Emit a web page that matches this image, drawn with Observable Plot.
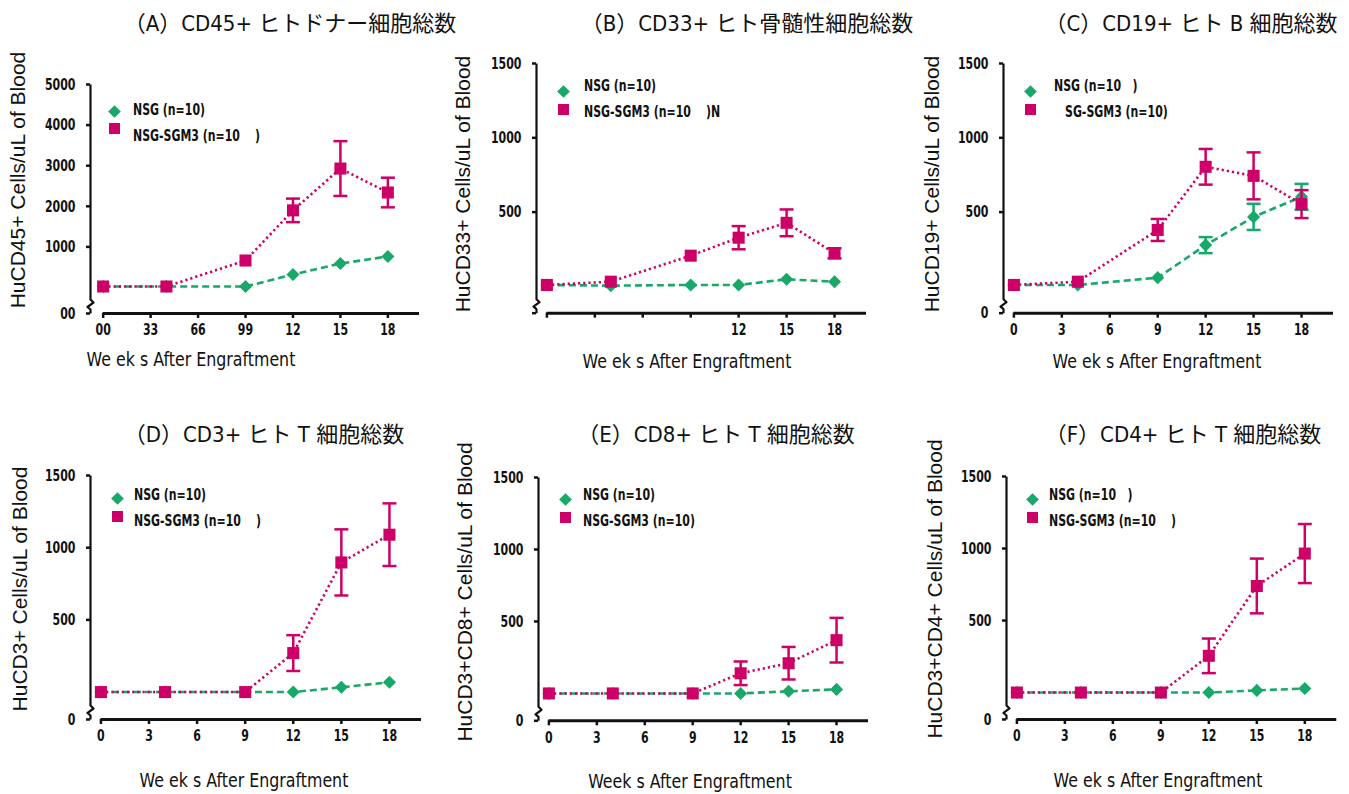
<!DOCTYPE html>
<html>
<head>
<meta charset="utf-8">
<script src="https://cdn.jsdelivr.net/npm/d3@7"></script>
<script src="https://cdn.jsdelivr.net/npm/@observablehq/plot@0.6"></script>
<style>
  body { margin: 0; background: #fff; }
  #root { position: relative; width: 1349px; height: 794px; overflow: hidden; background: #fff; }
  .title { position: absolute; font-family: "DejaVu Sans Condensed", "Noto Sans CJK JP", sans-serif; font-size: 22px; color: #111; white-space: pre; line-height: 1; transform: translate(-50%, -50%); }
  .ylab { position: absolute; font-family: "Liberation Sans", Arial, sans-serif; font-size: 21px; color: #111; white-space: pre; line-height: 1; transform: translate(-50%, -50%) rotate(-90deg); }
  .xlab { position: absolute; font-family: "DejaVu Sans Condensed", sans-serif; font-size: 20px; color: #111; white-space: pre; line-height: 1; transform: translate(-50%, -50%) scaleX(0.88); }
  .legtext { position: absolute; font-family: "DejaVu Sans Condensed", sans-serif; font-weight: bold; font-size: 16px; color: #111; white-space: pre; line-height: 1; transform-origin: 0 50%; transform: translateY(-50%) scaleX(0.76); }
  .sym { position: absolute; }
</style>
</head>
<body>
<div id="root"></div>
<script>
// ---------------- data ----------------
const weeks = [0, 4, 9, 12, 15, 18];
const xTickValues = [0, 3, 6, 9, 12, 15, 18];
const seriesNames = ["NSG", "NSG-SGM3"];

// (A) CD45+
const aNsg = [25, 25, 25, 320, 590, 765];
const aNsgSem = [0, 0, 0, 0, 0, 0];
const aSgm3 = [25, 25, 665, 1900, 2930, 2340];
const aSgm3Sem = [0, 0, 0, 290, 675, 365];
// (B) CD33+
const bNsg = [10, 5, 10, 10, 48, 32];
const bNsgSem = [0, 0, 0, 0, 0, 0];
const bSgm3 = [10, 32, 207, 328, 428, 223];
const bSgm3Sem = [0, 0, 0, 78, 90, 34];
// (C) CD19+
const cNsg = [10, 10, 59, 278, 468, 603];
const cNsgSem = [0, 0, 0, 54, 88, 87];
const cSgm3 = [10, 32, 380, 805, 744, 554];
const cSgm3Sem = [0, 0, 74, 120, 158, 94];
// (D) CD3+
const dNsg = [0, 0, 0, 0, 33, 68];
const dNsgSem = [0, 0, 0, 0, 0, 0];
const dSgm3 = [0, 0, 0, 270, 898, 1090];
const dSgm3Sem = [0, 0, 0, 124, 229, 217];
// (E) CD8+
const eNsg = [0, 0, 0, 0, 15, 28];
const eNsgSem = [0, 0, 0, 0, 0, 0];
const eSgm3 = [0, 0, 0, 140, 210, 370];
const eSgm3Sem = [0, 0, 0, 82, 113, 155];
// (F) CD4+
const fNsg = [0, 0, 0, 0, 15, 28];
const fNsgSem = [0, 0, 0, 0, 0, 0];
const fSgm3 = [0, 0, 0, 255, 740, 965];
const fSgm3Sem = [0, 0, 0, 120, 190, 205];

// tick labels
const aXTickLabels = ["00", "33", "66", "99", "12", "15", "18"];
const bXTickLabels = ["", "", "", "", "12", "15", "18"];
const stdXTickLabels = ["0", "3", "6", "9", "12", "15", "18"];
const aYTicks = [1000, 2000, 3000, 4000, 5000];
const aYTickLabels = ["1000", "2000", "3000", "4000", "5000"];
const stdYTicks = [500, 1000, 1500];
const stdYTickLabels = ["500", "1000", "1500"];
const aZeroLabel = "00";
const bZeroLabel = "";
const stdZeroLabel = "0";

// texts
const titles = ["（A）CD45+ ヒトドナー細胞総数", "（B）CD33+ ヒト骨髄性細胞総数", "（C）CD19+ ヒト B 細胞総数",
                "（D）CD3+ ヒト T 細胞総数", "（E）CD8+ ヒト T 細胞総数", "（F）CD4+ ヒト T 細胞総数"];
const yLabels = ["HuCD45+ Cells/uL of Blood", "HuCD33+ Cells/uL of Blood", "HuCD19+ Cells/uL of Blood",
                 "HuCD3+ Cells/uL of Blood", "HuCD3+CD8+ Cells/uL of Blood", "HuCD3+CD4+ Cells/uL of Blood"];
const xLabels = ["We ek s After Engraftment", "We ek s After Engraftment", "We ek s After Engraftment",
                 "We ek s After Engraftment", "Week s After Engraftment", "We ek s After Engraftment"];
const legendNsg = ["NSG (n=10)", "NSG (n=10)", "NSG (n=10   )", "NSG (n=10)", "NSG (n=10)", "NSG (n=10   )"];
const legendSgm3 = ["NSG-SGM3 (n=10    )", "NSG-SGM3 (n=10    )N", "SG-SGM3 (n=10)", "NSG-SGM3 (n=10    )", "NSG-SGM3 (n=10)", "NSG-SGM3 (n=10    )"];

// ---------------- styles & layout ----------------
const GREEN = "#17a86a";
const MAGENTA = "#cc0066";
const INK = "#111";
const NARROW = '"DejaVu Sans Condensed", sans-serif';
const TICK_SQUEEZE = 0.74;

const panelData = [
  {nsg: aNsg, nsgSem: aNsgSem, sgm: aSgm3, sgmSem: aSgm3Sem, xLab: aXTickLabels, yTicks: aYTicks, yLab: aYTickLabels, zero: aZeroLabel, yMax: 5000},
  {nsg: bNsg, nsgSem: bNsgSem, sgm: bSgm3, sgmSem: bSgm3Sem, xLab: bXTickLabels, yTicks: stdYTicks, yLab: stdYTickLabels, zero: bZeroLabel, yMax: 1500},
  {nsg: cNsg, nsgSem: cNsgSem, sgm: cSgm3, sgmSem: cSgm3Sem, xLab: stdXTickLabels, yTicks: stdYTicks, yLab: stdYTickLabels, zero: stdZeroLabel, yMax: 1500},
  {nsg: dNsg, nsgSem: dNsgSem, sgm: dSgm3, sgmSem: dSgm3Sem, xLab: stdXTickLabels, yTicks: stdYTicks, yLab: stdYTickLabels, zero: stdZeroLabel, yMax: 1500},
  {nsg: eNsg, nsgSem: eNsgSem, sgm: eSgm3, sgmSem: eSgm3Sem, xLab: stdXTickLabels, yTicks: stdYTicks, yLab: stdYTickLabels, zero: stdZeroLabel, yMax: 1500},
  {nsg: fNsg, nsgSem: fNsgSem, sgm: fSgm3, sgmSem: fSgm3Sem, xLab: stdXTickLabels, yTicks: stdYTicks, yLab: stdYTickLabels, zero: stdZeroLabel, yMax: 1500}
];

// pixel layout for each panel (axis frame, text anchors)
const layout = [
  {x0: 90,    x1: 419,  yTop: 84,    yBottom: 313, yMin: -640, xMin: -0.8,
   title: [290, 24],  ylab: [16.5, 180],  xlab: [191, 359],  sym: 114,  dY: 111, sY: 128, t1: [133, 110], t2: [133, 136]},
  {x0: 536,   x1: 866,  yTop: 63.3,  yBottom: 313, yMin: -180, xMin: -0.65,
   title: [747, 24],  ylab: [461.5, 183.5], xlab: [687, 361], sym: 563, dY: 91, sY: 109, t1: [584, 86], t2: [584, 112]},
  {x0: 1003,  x1: 1333, yTop: 63.3,  yBottom: 313, yMin: -180, xMin: -0.65,
   title: [1191, 24], ylab: [931, 183.5], xlab: [1157, 361], sym: 1030, dY: 91, sY: 109, t1: [1054, 86], t2: [1065, 112]},
  {x0: 90,    x1: 421,  yTop: 475,   yBottom: 719, yMin: -190, xMin: -0.65,
   title: [264, 435], ylab: [18.5, 589], xlab: [244, 780], sym: 117, dY: 498, sY: 516, t1: [134, 495], t2: [134, 521]},
  {x0: 538,   x1: 868,  yTop: 476.7, yBottom: 720, yMin: -190, xMin: -0.65,
   title: [716, 435], ylab: [463.5, 591.5], xlab: [690, 781], sym: 565, dY: 499, sY: 517, t1: [583, 495], t2: [583, 521]},
  {x0: 1005.7, x1: 1336, yTop: 476,  yBottom: 719, yMin: -187, xMin: -0.65,
   title: [1183, 435], ylab: [933.5, 589], xlab: [1158, 780], sym: 1032, dY: 499, sY: 517, t1: [1049, 495], t2: [1049, 521]}
];
const X_MAX = 20;

const root = document.getElementById("root");

// custom cap symbol for error bars (horizontal stroke)
const capSymbol = { draw(context, size) { const w = 7; context.moveTo(-w, 0); context.lineTo(w, 0); } };

function addDiv(cls, text, x, y) {
  const d = document.createElement("div");
  d.className = cls;
  d.textContent = text;
  d.style.left = x + "px";
  d.style.top = y + "px";
  root.appendChild(d);
  return d;
}

panelData.forEach((pd, i) => {
  const L = layout[i];
  const yMin = L.yMin, yMax = pd.yMax, xMin = L.xMin;
  const left = L.x0 - 70, top = L.yTop - 30;
  const width = (L.x1 + 20) - left, height = (L.yBottom + 45) - top;
  const upp = (yMax - yMin) / (L.yBottom - L.yTop);
  const wpp = (X_MAX - xMin) / (L.x1 - L.x0);

  const nsgRows = weeks.map((w, k) => ({week: w, value: pd.nsg[k], sem: pd.nsgSem[k], series: seriesNames[0]}));
  const sgmRows = weeks.map((w, k) => ({week: w, value: pd.sgm[k], sem: pd.sgmSem[k], series: seriesNames[1]}));
  const capsOf = rows => rows.filter(d => d.sem > 0).flatMap(d => [{week: d.week, y: d.value - d.sem}, {week: d.week, y: d.value + d.sem}]);

  // broken y-axis line (with zigzag near the bottom)
  const axisPath = [
    {x: xMin, y: yMax},
    {x: xMin, y: yMin + 14 * upp},
    {x: xMin + 3 * wpp, y: yMin + 11 * upp},
    {x: xMin - 3 * wpp, y: yMin + 6.5 * upp},
    {x: xMin, y: yMin + 4 * upp},
    {x: xMin, y: yMin}
  ];
  const xLabelMap = new Map(xTickValues.map((t, k) => [t, pd.xLab[k]]));
  const yTickAll = [yMin, ...pd.yTicks];
  const yLabelMap = new Map(yTickAll.map((t, k) => [t, k === 0 ? pd.zero : pd.yLab[k - 1]]));

  const chart = Plot.plot({
    width, height,
    marginLeft: L.x0 - left,
    marginRight: left + width - L.x1,
    marginTop: L.yTop - top,
    marginBottom: top + height - L.yBottom,
    x: {domain: [xMin, X_MAX], label: null},
    y: {domain: [yMin, yMax], label: null},
    style: {background: "transparent", overflow: "visible", fontFamily: NARROW, fontWeight: "bold", fontSize: "16.5px", color: INK},
    marks: [
      // axes
      Plot.line(axisPath, {x: "x", y: "y", stroke: INK, strokeWidth: 2.2, strokeLinecap: "butt"}),
      Plot.ruleY([{y: yMin, x1: 0, x2: X_MAX}], {y: "y", x1: "x1", x2: "x2", stroke: INK, strokeWidth: 3}),
      Plot.axisX(xTickValues, {tickSize: 5, tickPadding: 5, strokeWidth: 2.5, stroke: INK, tickFormat: d => xLabelMap.get(d), fontSize: 16.5, fontWeight: "bold", fontFamily: NARROW, label: null}),
      Plot.axisY(yTickAll, {tickSize: 4, tickPadding: 11, strokeWidth: 2.5, stroke: INK, tickFormat: d => yLabelMap.get(d), fontSize: 16.5, fontWeight: "bold", fontFamily: NARROW, label: null}),
      // NSG series
      Plot.line(nsgRows, {x: "week", y: "value", stroke: GREEN, strokeWidth: 2.6, strokeDasharray: "7,4", strokeLinecap: "butt"}),
      Plot.ruleX(nsgRows.filter(d => d.sem > 0), {x: "week", y1: d => d.value - d.sem, y2: d => d.value + d.sem, stroke: GREEN, strokeWidth: 2.5}),
      Plot.dot(capsOf(nsgRows), {x: "week", y: "y", symbol: capSymbol, r: 5, stroke: GREEN, strokeWidth: 2.5, fill: "none"}),
      Plot.dot(nsgRows, {x: "week", y: "value", symbol: "diamond2", r: 5.9, fill: GREEN, stroke: "none"}),
      // NSG-SGM3 series
      Plot.line(sgmRows, {x: "week", y: "value", stroke: MAGENTA, strokeWidth: 2.6, strokeDasharray: "2.2,3", strokeLinecap: "butt"}),
      Plot.ruleX(sgmRows.filter(d => d.sem > 0), {x: "week", y1: d => d.value - d.sem, y2: d => d.value + d.sem, stroke: MAGENTA, strokeWidth: 2.5}),
      Plot.dot(capsOf(sgmRows), {x: "week", y: "y", symbol: capSymbol, r: 5, stroke: MAGENTA, strokeWidth: 2.5, fill: "none"}),
      Plot.dot(sgmRows, {x: "week", y: "value", symbol: "square", r: 6.8, fill: MAGENTA, stroke: "none"})
    ]
  });
  // squeeze tick labels horizontally to imitate a condensed bold face
  chart.querySelectorAll("text").forEach(el => {
    const t = el.getAttribute("transform") || "";
    const x = +(el.getAttribute("x") || 0);
    el.removeAttribute("x");
    el.setAttribute("transform", `${t} translate(${x},0) scale(${TICK_SQUEEZE},1)`);
  });
  chart.style.position = "absolute";
  chart.style.left = left + "px";
  chart.style.top = top + "px";
  root.appendChild(chart);

  // texts
  addDiv("title", titles[i], L.title[0], L.title[1]);
  addDiv("ylab", yLabels[i], L.ylab[0], L.ylab[1]);
  addDiv("xlab", xLabels[i], L.xlab[0], L.xlab[1]);

  // legend
  const dia = document.createElement("div");
  dia.className = "sym";
  Object.assign(dia.style, {left: (L.sym - 4.5) + "px", top: (L.dY - 4.5) + "px", width: "9px", height: "9px", background: GREEN, transform: "rotate(45deg)"});
  root.appendChild(dia);
  const sq = document.createElement("div");
  sq.className = "sym";
  Object.assign(sq.style, {left: (L.sym - 5.5) + "px", top: (L.sY - 5.5) + "px", width: "11px", height: "11px", background: MAGENTA});
  root.appendChild(sq);
  addDiv("legtext", legendNsg[i], L.t1[0], L.t1[1]);
  addDiv("legtext", legendSgm3[i], L.t2[0], L.t2[1]);
});
</script>
</body>
</html>
